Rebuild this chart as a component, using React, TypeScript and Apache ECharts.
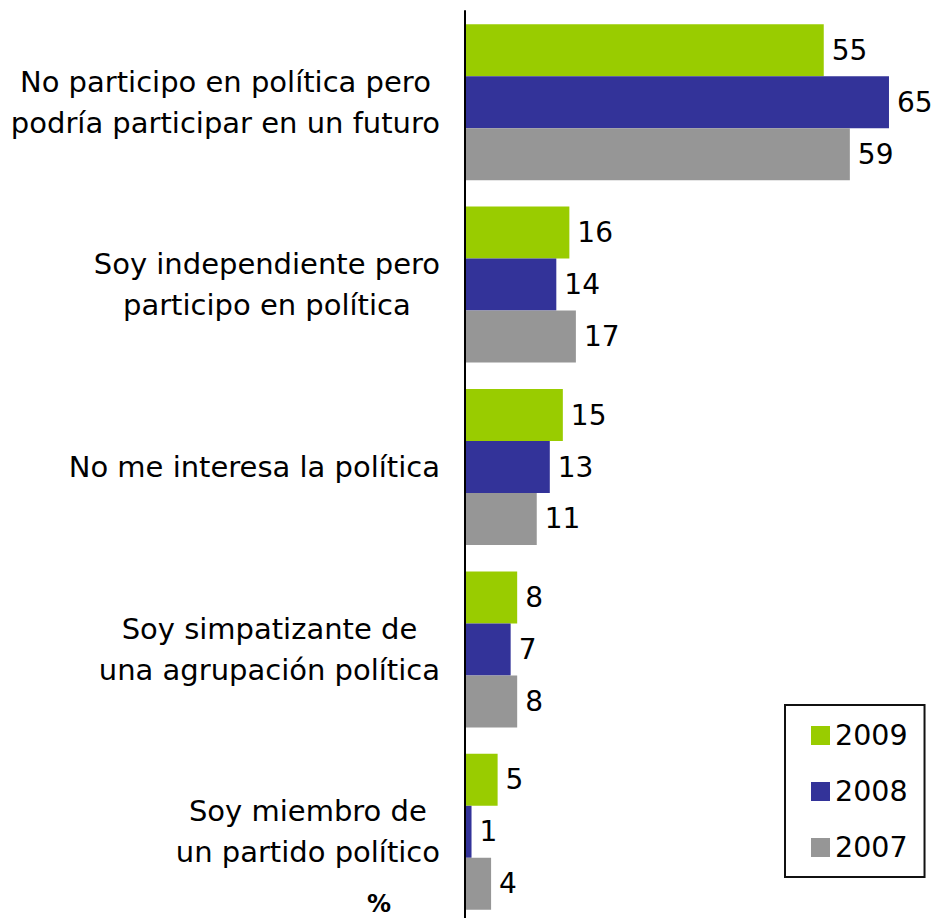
import React, { useEffect, useRef } from "react";
import * as echarts from "echarts";

const categories = [
  "No participo en política pero\npodría participar en un futuro",
  "Soy independiente pero\nparticipo en política",
  "No me interesa la política",
  "Soy simpatizante de\nuna agrupación política",
  "Soy miembro de\nun partido político",
];
const seriesNames = ["2009", "2008", "2007"];
const values2009 = [55, 16, 15, 8, 5];
const values2008 = [65, 14, 13, 7, 1];
const values2007 = [59, 17, 11, 8, 4];
const colors = ["#99CC00", "#333399", "#969696"];
const unitLabel = "%";

const FONT = "DejaVu Sans";

export default function App() {
  const ref = useRef<HTMLDivElement>(null);
  useEffect(() => {
    if (!ref.current) return;
    const chart = echarts.init(ref.current, null, { renderer: "svg" });
    const allValues = [values2009, values2008, values2007];
    chart.setOption({
      animation: false,
      backgroundColor: "#ffffff",
      grid: { left: 465, top: 11, width: 456.6, height: 912, containLabel: false },
      xAxis: {
        type: "value",
        min: 0,
        max: 70,
        show: false,
      },
      yAxis: {
        type: "category",
        inverse: true,
        data: categories,
        z: 3,
        axisLine: { show: true, lineStyle: { color: "#000", width: 2 } },
        axisTick: { show: false },
        splitLine: { show: false },
        axisLabel: {
          margin: 25,
          align: "right",
          fontFamily: FONT,
          fontSize: 29,
          lineHeight: 41,
          color: "#000",
          formatter: (v: string) =>
            v.split("\n").map((l) => `{c|${l}}`).join("\n"),
          rich: {
            c: {
              align: "center",
              fontFamily: FONT,
              fontSize: 29,
              lineHeight: 41,
              color: "#000",
            },
          },
        },
      },
      legend: {
        orient: "vertical",
        left: 785,
        top: 705,
        data: seriesNames,
        icon: "rect",
        itemWidth: 19,
        itemHeight: 19,
        itemGap: 27,
        padding: [16, 17, 15, 26],
        borderColor: "#111",
        borderWidth: 2,
        textStyle: { fontFamily: FONT, fontSize: 28.5, lineHeight: 28, color: "#000" },
      },
      graphic: [
        {
          type: "text",
          left: 367,
          top: 892,
          style: { text: unitLabel, fontFamily: FONT, fontSize: 24, fontWeight: "bold", fill: "#000" },
        },
      ],
      series: seriesNames.map((name, i) => ({
        name,
        type: "bar",
        data: allValues[i],
        itemStyle: { color: colors[i] },
        barGap: "0%",
        barCategoryGap: "14.5%",
        label: {
          show: true,
          position: "right",
          distance: 8,
          fontFamily: FONT,
          fontSize: 28,
          color: "#000",
        },
      })),
    });
    return () => chart.dispose();
  }, []);
  return (
    <div
      ref={ref}
      style={{ position: "fixed", left: 0, top: 0, width: 937, height: 930 }}
    />
  );
}
